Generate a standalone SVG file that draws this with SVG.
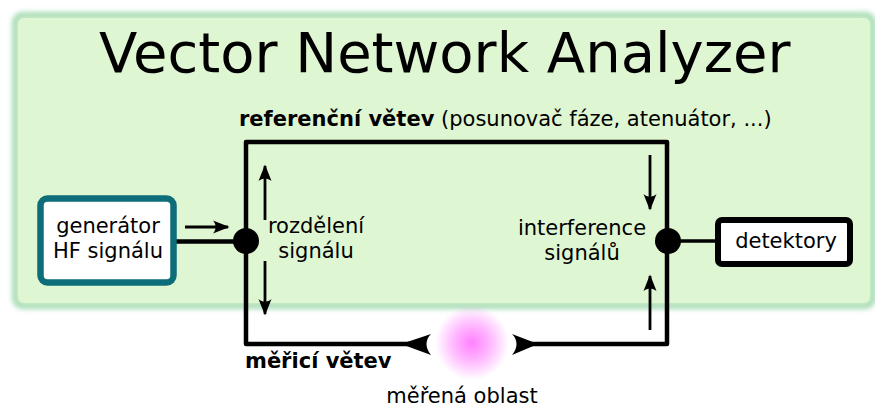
<svg xmlns="http://www.w3.org/2000/svg" width="875" height="408" viewBox="0 0 875 408">
<defs>
<style>
text{font-family:"DejaVu Sans","Liberation Sans",sans-serif;fill:#000}
.t{font-size:21px}
.b{font-weight:bold}
.wire{fill:none;stroke:#000;stroke-width:4.5;stroke-linejoin:round}
.arr{fill:none;stroke:#000;stroke-width:2.8;marker-end:url(#ah)}
</style>
<filter id="blur" x="-5%" y="-5%" width="110%" height="110%"><feGaussianBlur stdDeviation="2.6"/></filter>
<radialGradient id="glow"><stop offset="0" stop-color="#ff80ff" stop-opacity="1"/><stop offset="0.5" stop-color="#ff80ff" stop-opacity="0.55"/><stop offset="1" stop-color="#ff80ff" stop-opacity="0"/></radialGradient>
<marker id="ah" markerUnits="userSpaceOnUse" markerWidth="22" markerHeight="16" refX="0" refY="0" viewBox="-17 -8 19 16" orient="auto">
<path d="M1.5,0 L-15,-6.5 C-11.5,-2.5 -11.5,2.5 -15,6.5 Z" fill="#000"/>
</marker>
</defs>
<g id="background">
<rect x="15" y="15" width="858" height="291" rx="8" fill="#dff6d2" stroke="#a6dcb6" stroke-width="6" filter="url(#blur)"/>
<rect x="18" y="18" width="852" height="285" rx="6" fill="#dff6d2"/>
</g>
<text x="99" y="72" style="font-size:56px">Vector Network Analyzer</text>
<g id="connectors">
<path class="wire" d="M425,344 H246 V142 H667 V344 H530"/>
<line x1="176" y1="241.5" x2="246" y2="241.5" stroke="#000" stroke-width="4.5"/>
<line x1="668" y1="241" x2="716" y2="241" stroke="#000" stroke-width="3.5"/>
<line class="arr" x1="185" y1="227" x2="228" y2="227"/>
<line class="arr" x1="265" y1="220" x2="265" y2="166"/>
<line class="arr" x1="265" y1="261" x2="265" y2="314"/>
<line class="arr" x1="650" y1="155" x2="650" y2="209"/>
<line class="arr" x1="650" y1="330" x2="650" y2="276"/>
<path d="M401,344 L431,334 C425,340 425,348 431,355 Z" fill="#000"/>
<path d="M538,344 L512,334 C518,340 518,348 512,355 Z" fill="#000"/>
</g>
<g id="split">
<circle cx="246" cy="241" r="13" fill="#000"/>
<text class="t" x="316" y="233" text-anchor="middle">rozdělení</text>
<text class="t" x="316" y="258" text-anchor="middle">signálu</text>
</g>
<g id="interference">
<circle cx="668" cy="241" r="13" fill="#000"/>
<text class="t" x="582" y="235" text-anchor="middle">interference</text>
<text class="t" x="582" y="260" text-anchor="middle">signálů</text>
</g>
<g id="generator">
<rect x="40.5" y="198.5" width="133" height="84" rx="7" fill="#fff" stroke="#0d6e7a" stroke-width="6.5"/>
<text class="t" x="108" y="233" text-anchor="middle">generátor</text>
<text class="t" x="108" y="258" text-anchor="middle">HF signálu</text>
</g>
<g id="detectors">
<rect x="718" y="220" width="132" height="44" rx="4" fill="#fff" stroke="#000" stroke-width="6"/>
<text class="t" x="786" y="248" text-anchor="middle">detektory</text>
</g>
<g id="reference-branch">
<text class="t" x="239" y="126"><tspan class="b">referenční větev</tspan> (posunovač fáze, atenuátor, ...)</text>
</g>
<g id="measurement-branch">
<text class="t b" x="245" y="368">měřicí větev</text>
</g>
<g id="measured-area">
<circle cx="472" cy="343" r="37" fill="url(#glow)"/>
<text class="t" x="462" y="403" text-anchor="middle">měřená oblast</text>
</g>
</svg>
